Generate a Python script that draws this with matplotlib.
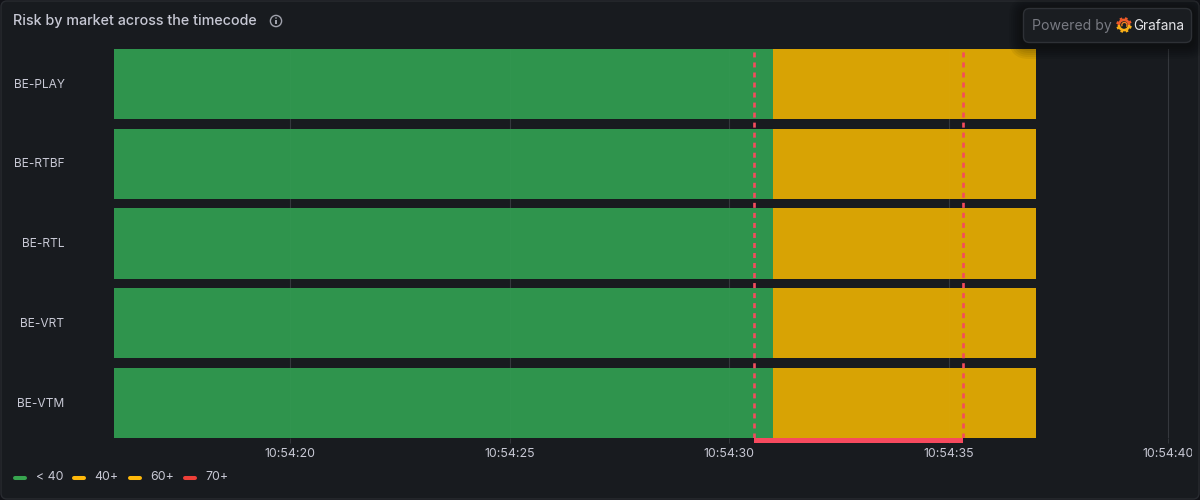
import matplotlib
matplotlib.use("Agg")
from matplotlib import pyplot as plt
from matplotlib.lines import Line2D
from matplotlib.patches import Circle, FancyBboxPatch, Rectangle, Wedge
from matplotlib.transforms import IdentityTransform, ScaledTranslation

plt.rcParams['font.family'] = ['Inter', 'DejaVu Sans']

# seconds after 10:54:00
markets = ["BE-PLAY", "BE-RTBF", "BE-RTL", "BE-VRT", "BE-VTM"]
low_start = [16, 16, 16, 16, 16]
low_end = [31, 31, 31, 31, 31]
mid_end = [37, 37, 37, 37, 37]
annotation_start = 30.58
annotation_end = 35.32
tick_seconds = [20, 25, 30, 35, 40]
tick_labels = ["10:54:20", "10:54:25", "10:54:30", "10:54:35", "10:54:40"]
legend_labels = ["< 40", "40+", "60+", "70+"]
legend_colors = ["#37A54F", "#FFB90A", "#FFB90A", "#EE3F38"]

BG = "#181B1F"
TEXT = "#C7C8D4"
GREEN = "#2F944D"
YELLOW = "#D8A304"
RED = "#F64A5E"
W, H = 1200, 500

fig = plt.figure(figsize=(12, 5), dpi=100, facecolor="#111217")


def pixel_axes(zorder):
    a = fig.add_axes([0, 0, 1, 1], zorder=zorder)
    a.set_xlim(0, W)
    a.set_ylim(H, 0)
    a.axis("off")
    return a


# panel behind everything
back = pixel_axes(0)
back.add_patch(FancyBboxPatch((1, 1), W - 2, H - 2, boxstyle="round,pad=0,rounding_size=6",
                              facecolor=BG, edgecolor="#282B30", linewidth=1))

# main chart, laid out on the reference's pixels
ax = fig.add_axes([114.4 / W, 1 - 438 / H, 1075.6 / W, 389 / H], zorder=1)
ax.patch.set_alpha(0)
rows = list(range(len(markets)))
low_width = [e - s for s, e in zip(low_start, low_end)]
mid_width = [e - s for s, e in zip(low_end, mid_end)]
ax.barh(rows, low_width, left=low_start, height=0.878, color=GREEN, zorder=2)
ax.barh(rows, mid_width, left=low_end, height=0.878, color=YELLOW, zorder=2)

ax.set_xlim(16, 40.5)
ax.set_ylim(4.439, -0.439)
for spine in ax.spines.values():
    spine.set_visible(False)

ax.set_yticks(rows, markets)
ax.set_xticks(tick_seconds, tick_labels)
ax.tick_params(axis="y", length=0, pad=36, labelsize=8.6, labelcolor=TEXT)
ax.tick_params(axis="x", length=3.6, width=0.7, color="#33363B", pad=3.5,
               labelsize=8.9, labelcolor=TEXT)
ax.grid(axis="x", color="#33363B", linewidth=0.8, zorder=1)
for t in tick_seconds:
    ax.axvline(t, color="white", alpha=0.012, linewidth=0.8, zorder=3)

# y labels sit half a pixel higher
up = ScaledTranslation(0, 0.6 / 72, fig.dpi_scale_trans)
for label in ax.get_yticklabels():
    label.set_transform(label.get_transform() + up)

# last label is cut by the panel edge
clip = Rectangle((0, 0), 1192, H, transform=IdentityTransform())
for label in ax.get_xticklabels():
    label.set_clip_on(True)
    label.set_clip_path(clip)

# annotation region
for t in (annotation_start, annotation_end):
    ax.axvline(t, color=RED, linewidth=1.9, linestyle=(0, (1.9, 1.9)), zorder=4)
ax.axvspan(annotation_start, annotation_end, ymin=-5 / 389, ymax=0, color=RED,
           linewidth=0, clip_on=False, zorder=4)

front = pixel_axes(2)
front.text(13, 21, "Risk by market across the timecode", color=TEXT, fontsize=10.3,
           fontweight="medium", va="center", ha="left")

# info icon
front.add_patch(Circle((276, 21), 5.6, facecolor="none", edgecolor="#A0A2AC", linewidth=1))
front.add_patch(Rectangle((275.4, 20), 1.3, 4, facecolor="#A0A2AC", edgecolor="none"))
front.add_patch(Circle((276, 18), 0.8, facecolor="#A0A2AC", edgecolor="none"))

# legend
legend_swatch_x = [13, 72, 128, 183]
legend_text_x = [36, 94, 150, 205]
for label, color, sx, tx in zip(legend_labels, legend_colors, legend_swatch_x, legend_text_x):
    front.add_line(Line2D([sx + 2, sx + 12], [478, 478], color=color, linewidth=2.9,
                          solid_capstyle="round"))
    front.text(tx, 477, label, color=TEXT, fontsize=8.9, va="center", ha="left")

# "Powered by" badge with its shadow
for grow in range(14, 0, -2):
    front.add_patch(FancyBboxPatch((1023 - grow, 8 - grow + 3), 169 + 2 * grow, 34 + 2 * grow,
                                   boxstyle=f"round,pad=0,rounding_size={6 + grow}",
                                   facecolor="black", edgecolor="none", alpha=0.05))
front.add_patch(FancyBboxPatch((1023.5, 8.5), 168, 34, boxstyle="round,pad=0,rounding_size=6",
                               facecolor="#1A1D21", edgecolor="#2E3136", linewidth=1))
front.text(1032, 26, "Powered by", color="#787A82", fontsize=10.1, va="center", ha="left")

# Grafana logo, rough: toothed ring, hot on top and yellow below
logo_x, logo_y = 1124, 25
for start in range(0, 360, 45):
    tooth = "#F05A28" if start >= 180 else "#FBB017"
    front.add_patch(Wedge((logo_x, logo_y), 7.8, start + 8, start + 30, width=2,
                          facecolor=tooth, edgecolor="none"))
front.add_patch(Wedge((logo_x, logo_y), 6.4, 180, 360, width=2.6, facecolor="#F05A28", edgecolor="none"))
front.add_patch(Wedge((logo_x, logo_y), 6.4, 0, 180, width=2.6, facecolor="#FBB017", edgecolor="none"))
front.add_patch(Wedge((logo_x + 0.4, logo_y), 3.2, 150, 40, width=1.3, facecolor="#F58220", edgecolor="none"))
front.text(1133, 26, "Grafana", color="#E4E4E8", fontsize=9.8, fontweight="normal",
           va="center", ha="left")

fig.savefig("out.png", dpi=100, facecolor=fig.get_facecolor())
